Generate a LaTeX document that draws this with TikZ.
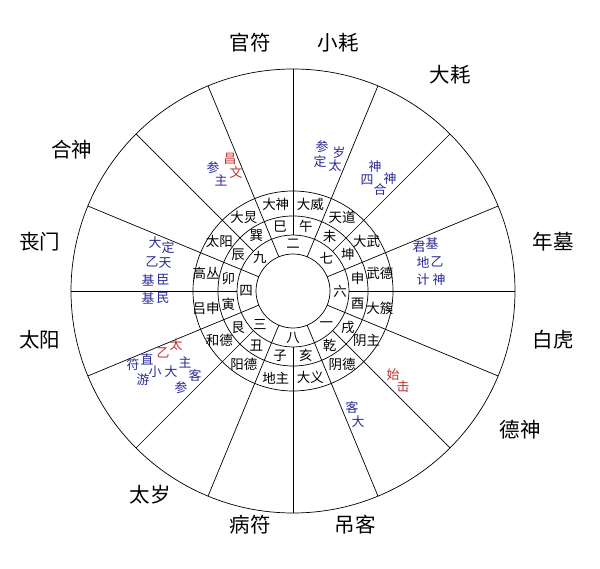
\documentclass[tikz,border=0pt]{standalone}
\usepackage{fontspec}
\setmainfont{Noto Sans CJK SC}
\definecolor{starblue}{RGB}{40,40,150}
\definecolor{starred}{RGB}{190,45,45}
\tikzset{
  ring/.style={draw=black,line width=0.6pt},
  spoke/.style={draw=black,line width=0.6pt},
  godname/.style={font=\fontsize{17.5}{17.5}\selectfont,inner sep=0pt},
  cellname/.style={font=\fontsize{11.5}{11.5}\selectfont,inner sep=0pt},
  starb/.style={text=starblue,font=\fontsize{11}{11}\selectfont,inner sep=0pt},
  starr/.style={starb,text=starred},
}
\begin{document}
\begin{tikzpicture}[x=0.03cm,y=0.03cm]
  \useasboundingbox (-293,-277) rectangle (307,291);
  % --- rings and spokes ---
  \foreach \r in {37,56,75,100,222} \draw[ring] (0,0) circle (\r);
  \foreach \a in {0,45,...,315} \draw[spoke] (\a:56) -- (\a:222);
  \foreach \a in {22.5,67.5,...,337.5} \draw[spoke] (\a:37) -- (\a:222);
  % --- numbers ring ---
  \foreach \t [count=\i] in {六,七,二,九,四,三,八,一}
    \node[cellname] (num\i) at ({45*(\i-1)}:47) {\t};
  % --- branches ring ---
  \foreach \t [count=\i] in {申,坤,未,午,巳,巽,辰,卯,寅,艮,丑,子,亥,乾,戌,酉}
    \node[cellname] (branch\i) at ({11.25+22.5*(\i-1)}:66) {\t};
  % --- names ring ---
  \foreach \t [count=\i] in {武德,大武,天道,大威,大神,大炅,太阳,高丛,吕申,和德,阳德,地主,大义,阴德,阴主,大簇}
    \node[cellname] (cell\i) at ({11.25+22.5*(\i-1)}:88.5) {\t};
  % --- stars in the outer ring ---
  \foreach \x/\y/\c [count=\i] in {-80/123/参,-72/111/主,29/144/参,27/129/定,46/138/岁,42/125/太,
      82/124/神,74/111/四,97/112/神,87/101/合,139/48/基,126/44/君,130/29/地,144/29/乙,130/11/计,146/11/神,
      -138/48/大,-125/43/定,-141/29/乙,-128/28/天,-145/11/基,-130/11/臣,-145/-7/基,-130/-7/民,
      -146/-68/直,-160/-74/符,-108/-71/主,-138/-81/小,-122/-81/大,-150/-89/游,-98/-85/客,-112/-97/参,
      59/-117/客,65/-131/大}
    \node[starb] (star\i) at (\x,\y) {\c};
  \foreach \x/\y/\c [count=\i] in {-63/132/昌,-57/118/文,-117/-54/太,-130/-62/乙,100/-84/始,110/-96/击}
    \node[starr] (redstar\i) at (\x,\y) {\c};
  % --- gods outside ---
  \foreach \x/\y/\t [count=\i] in {-43/248/官符,45/248/小耗,157/216/大耗,260/49/年墓,260/-49/白虎,227/-139/德神,
      62/-234/吊客,-43/-234/病符,-143/-204/太岁,-253/-49/太阳,-253/49/丧门,-221/141/合神}
    \node[godname] (god\i) at (\x,\y) {\t};
\end{tikzpicture}
\end{document}
